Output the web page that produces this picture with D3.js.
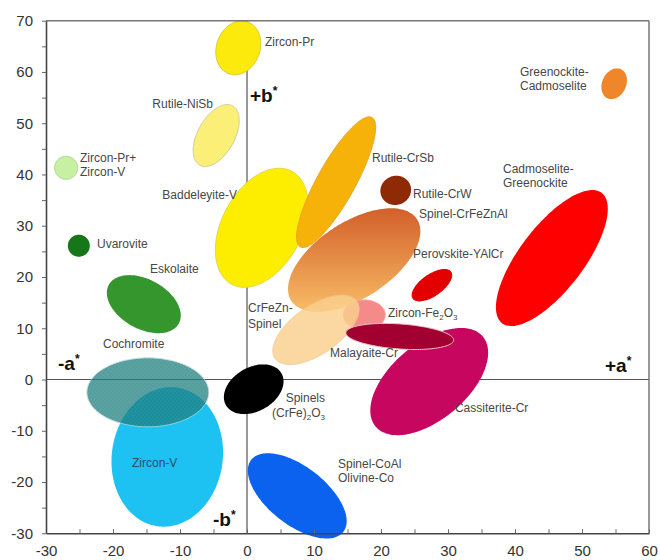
<!DOCTYPE html>
<html>
<head>
<meta charset="utf-8">
<script src="https://cdn.jsdelivr.net/npm/d3@7/dist/d3.min.js"></script>
<style>
  html, body { margin: 0; padding: 0; background: #fff; }
  svg { display: block; }
  text { font-family: "Liberation Sans", Arial, Helvetica, sans-serif; }
</style>
</head>
<body>
<svg id="chart" width="660" height="560"></svg>
<script>
// Colour regions of ceramic pigments in the CIE a*b* plane.
// Each region is an ellipse: centre (a*, b*), half-axes (in a* units) and tilt (deg, counter-clockwise).
const pigments = [
  "Zircon-V", "Cochromite", "Eskolaite", "Uvarovite", "Zircon-Pr+V",
  "Zircon-Pr", "Rutile-NiSb", "Baddeleyite-V", "Rutile-CrSb", "Rutile-CrW",
  "Spinel-CrFeZnAl", "Zircon-Fe2O3", "CrFeZn-Spinel", "Perovskite-YAlCr",
  "Cadmoselite-Greenockite", "Greenockite-Cadmoselite", "Cassiterite-Cr",
  "Malayaite-Cr", "Spinels (CrFe)2O3", "Spinel-CoAl Olivine-Co"
];
const centerA   = [-11.9, -14.8, -15.4, -25.1, -27.0, -1.3, -4.6, 2.2, 13.3, 22.2, 16.0, 17.5, 10.3, 27.6, 45.5, 54.8, 27.2, 22.8, 1.0, 7.5];
const centerB   = [-15.1, -2.5, 14.7, 26.1, 41.3, 64.7, 47.6, 29.6, 38.5, 36.9, 23.3, 12.6, 9.7, 18.4, 23.7, 57.7, -0.4, 8.4, -1.9, -22.7];
const halfMajor = [10.45, 9.10, 5.97, 1.64, 1.72, 4.12, 5.07, 9.55, 11.04, 2.31, 11.19, 3.13, 7.46, 3.51, 12.24, 2.39, 10.45, 8.06, 4.78, 8.73];
const halfMinor = [8.28, 5.15, 3.69, 1.64, 1.72, 3.24, 2.75, 5.97, 2.84, 2.16, 5.67, 2.24, 3.58, 1.64, 4.78, 1.79, 5.67, 1.87, 3.28, 4.33];
const tilt      = [82, 0, -29, 0, 0, 70, 61, 62, 61, 20, 33, 0, 35, 35, 52.6, 65, 40, -4, 30, -38];

// Axis ticks
const xTicks = d3.range(-30, 61, 5);
const yTicks = d3.range(-30, 71, 5);

// Region labels (anchor in a*, b*; "_n" marks a subscript digit)
const labelText = [
  ["Zircon-Pr"], ["Rutile-NiSb"], ["Zircon-Pr+", "Zircon-V"], ["Uvarovite"],
  ["Baddeleyite-V"], ["Eskolaite"], ["Cochromite"], ["Zircon-V"],
  ["Spinels", "(CrFe)_2O_3"], ["Spinel-CoAl", "Olivine-Co"], ["Cassiterite-Cr"],
  ["Malayaite-Cr"], ["Zircon-Fe_2O_3"], ["CrFeZn-", "Spinel"], ["Perovskite-YAlCr"],
  ["Spinel-CrFeZnAl"], ["Rutile-CrW"], ["Rutile-CrSb"], ["Cadmoselite-", "Greenockite"],
  ["Greenockite-", "Cadmoselite"]
];
const labelA = [2.69, -5.07, -24.93, -22.39, -1.49, -14.48, -21.49, -17.16, 11.64, 13.58, 31.04, 12.39, 21.04, 0.15, 24.78, 25.67, 24.78, 18.66, 38.21, 40.75];
const labelB = [65.06, 52.97, 42.43, 25.66, 35.22, 20.78, 6.15, -16.97, -4.39, -17.26, -6.34, 4.39, 12.20, 13.17, 23.71, 31.51, 35.41, 42.43, 40.29, 59.21];

// Quadrant captions
const quadText = [["+b", "*"], ["-a", "*"], ["+a", "*"], ["-b", "*"]];
const quadA = [0.45, -28.2, 53.43, -5.07];
const quadB = [55.5, 3.22, 2.83, -27.2];

// ---- styling ----
const fills = {
  "Zircon-V": "#1ec2f2", "Cochromite": "url(#cochroPattern)", "Eskolaite": "#35962e",
  "Uvarovite": "#15771a", "Zircon-Pr+V": "#c8f0a2", "Zircon-Pr": "#fbea0c",
  "Rutile-NiSb": "#fbef78", "Baddeleyite-V": "#fdee00", "Rutile-CrSb": "#f7b20a",
  "Rutile-CrW": "#8e2a05", "Spinel-CrFeZnAl": "url(#spinelGrad)", "Zircon-Fe2O3": "#f58a8a",
  "CrFeZn-Spinel": "#fbd08e", "Perovskite-YAlCr": "#e20000", "Cadmoselite-Greenockite": "#fe0000",
  "Greenockite-Cadmoselite": "#f0862a", "Cassiterite-Cr": "#c6065f", "Malayaite-Cr": "#a30032",
  "Spinels (CrFe)2O3": "#000000", "Spinel-CoAl Olivine-Co": "#0a62ee"
};
const strokes = {
  "Cochromite": "#b8d6d6", "Zircon-Pr+V": "#a8d890", "Zircon-Pr": "#d8c83a",
  "Rutile-NiSb": "#d4cc98", "Baddeleyite-V": "#e6d640", "Rutile-CrSb": "#e8a820",
  "CrFeZn-Spinel": "#f4c48a", "Malayaite-Cr": "#f2c2cc", "Zircon-Fe2O3": "#f5a0a0"
};
const opacities = { "Cochromite": 0.74, "CrFeZn-Spinel": 0.82 };

const svg = d3.select("#chart");
const x = d3.scaleLinear().domain([-30, 60]).range([46, 649]);
const y = d3.scaleLinear().domain([-30, 70]).range([533.3, 20.7]);

// defs: gradient and a fine texture
const defs = svg.append("defs");
const grad = defs.append("linearGradient").attr("id", "spinelGrad")
  .attr("x1", 0).attr("y1", 0).attr("x2", 0).attr("y2", 1);
grad.append("stop").attr("offset", "0%").attr("stop-color", "#d2602a");
grad.append("stop").attr("offset", "100%").attr("stop-color", "#f8bc66");

const pat = defs.append("pattern").attr("id", "cochroPattern")
  .attr("patternUnits", "userSpaceOnUse").attr("width", 4).attr("height", 4);
pat.append("rect").attr("width", 4).attr("height", 4).attr("fill", "#1c7c7d");
pat.append("rect").attr("width", 2).attr("height", 2).attr("fill", "#248384");
pat.append("rect").attr("x", 2).attr("y", 2).attr("width", 2).attr("height", 2).attr("fill", "#248384");

// crosshair through the origin (beneath the regions)
svg.append("line").attr("x1", x(0)).attr("x2", x(0)).attr("y1", y(70)).attr("y2", y(-30))
  .attr("stroke", "#555").attr("stroke-width", 1.2);
svg.append("line").attr("x1", x(-30)).attr("x2", x(60)).attr("y1", y(0)).attr("y2", y(0))
  .attr("stroke", "#555").attr("stroke-width", 1.2);

// ellipse outline in screen space from a*b* centre and half-axes
const unit = x(1) - x(0);
function ellipsePoints(i) {
  const cx = x(centerA[i]), cy = y(centerB[i]);
  const A = halfMajor[i] * unit, B = halfMinor[i] * unit;
  const th = tilt[i] * Math.PI / 180;
  return d3.range(0, 144).map(k => {
    const t = k / 144 * 2 * Math.PI;
    const u = A * Math.cos(t), v = B * Math.sin(t);
    return [cx + u * Math.cos(th) - v * Math.sin(th), cy - (u * Math.sin(th) + v * Math.cos(th))];
  });
}
const outline = d3.line().curve(d3.curveCardinalClosed);

svg.append("g").selectAll("path")
  .data(pigments)
  .join("path")
  .attr("d", (d, i) => outline(ellipsePoints(i)))
  .attr("fill", d => fills[d])
  .attr("opacity", d => opacities[d] || 1)
  .attr("stroke", d => strokes[d] || "none")
  .attr("stroke-width", 1);

// frame
svg.append("line").attr("x1", x(-30)).attr("x2", x(60)).attr("y1", y(70)).attr("y2", y(70))
  .attr("stroke", "#777").attr("stroke-width", 1.5);
svg.append("line").attr("x1", x(60)).attr("x2", x(60)).attr("y1", y(70)).attr("y2", y(-30))
  .attr("stroke", "#777").attr("stroke-width", 1.5);

// axes
const fmt = d => (d % 10 === 0 ? d : "");
const gx = svg.append("g").attr("transform", `translate(0,${y(-30)})`)
  .call(d3.axisBottom(x).tickValues(xTicks).tickFormat(fmt).tickSizeInner(-4).tickSizeOuter(0).tickPadding(12));
const gy = svg.append("g").attr("transform", `translate(${x(-30)},0)`)
  .call(d3.axisLeft(y).tickValues(yTicks).tickFormat(fmt).tickSizeInner(4).tickSizeOuter(0).tickPadding(9));
[gx, gy].forEach(g => {
  g.select(".domain").attr("stroke", "#444").attr("stroke-width", 1.6);
  g.selectAll(".tick line").attr("stroke", "#666");
  g.selectAll(".tick text").attr("font-size", 15).attr("fill", "#333")
    .attr("font-family", '"Liberation Sans", Arial, sans-serif');
});

// labels with subscript support
function writeLine(sel, str) {
  const parts = str.split(/(_\d)/).filter(s => s.length);
  let down = false;
  parts.forEach(p => {
    if (p.startsWith("_")) {
      sel.append("tspan").attr("font-size", 8).attr("dy", down ? 0 : 3).text(p.slice(1));
      down = true;
    } else {
      sel.append("tspan").attr("dy", down ? -3 : 0).text(p);
      down = false;
    }
  });
}
const labelAnchor = { 1: "end", 4: "end", 8: "end" };
const labelGap = { 8: 15, 13: 16 };
const labels = svg.append("g").attr("font-size", 12).attr("fill", "#474747");
labelText.forEach((lines, i) => {
  const t = labels.append("text")
    .attr("x", x(labelA[i])).attr("y", y(labelB[i]))
    .attr("text-anchor", labelAnchor[i] || "start")
    .attr("fill", i === 7 ? "#2b4d6c" : null);
  lines.forEach((ln, j) => {
    const row = t.append("tspan").attr("x", x(labelA[i]))
      .attr("y", y(labelB[i]) + j * (labelGap[i] || 14)).attr("dy", "0.35em");
    writeLine(row, ln);
  });
});

// quadrant captions
quadText.forEach((q, i) => {
  const t = svg.append("text").attr("x", x(quadA[i])).attr("y", y(quadB[i]))
    .attr("dy", "0.35em").attr("font-size", 19).attr("font-weight", "bold").attr("fill", "#111");
  t.append("tspan").text(q[0]);
  t.append("tspan").attr("font-size", 12).attr("dy", -7).text(q[1]);
});
</script>
</body>
</html>
